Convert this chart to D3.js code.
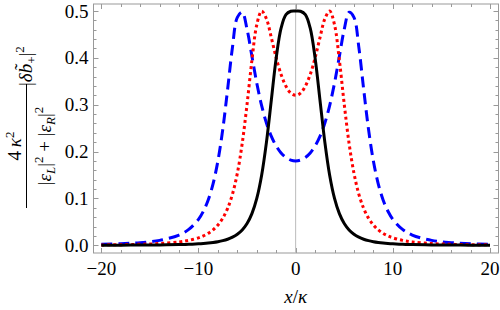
<!DOCTYPE html>
<html>
<head>
<meta charset="utf-8">
<script src="https://cdn.jsdelivr.net/npm/d3@7"></script>
</head>
<body style="margin:0">
<svg id="fig" width="500" height="310"></svg>
<script>
// detuning x/kappa, shared by the three curves
const xs = [-20, -18, -16, -14, -12, -11, -10, -9.5, -9, -8.5, -8, -7.5, -7,
  -6.5, -6, -5.5, -5, -4.5, -4, -3.5, -3, -2.5, -2, -1.5, -1, -0.5, 0,
  0.5, 1, 1.5, 2, 2.5, 3, 3.5, 4, 4.5, 5, 5.5, 6, 6.5, 7, 7.5, 8, 8.5, 9,
  9.5, 10, 11, 12, 14, 16, 18, 20];

const blackVals = [0.0002, 0.0003, 0.00049, 0.00083, 0.00154, 0.00218,
  0.00318, 0.0039, 0.00483, 0.00606, 0.00769, 0.00991, 0.01298, 0.01731,
  0.02353, 0.03268, 0.04644, 0.0675, 0.1, 0.14949, 0.22069, 0.31049, 0.4,
  0.46335, 0.49231, 0.49951, 0.5, 0.49951, 0.49231, 0.46335, 0.4, 0.31049,
  0.22069, 0.14949, 0.1, 0.0675, 0.04644, 0.03268, 0.02353, 0.01731,
  0.01298, 0.00991, 0.00769, 0.00606, 0.00483, 0.0039, 0.00318, 0.00218,
  0.00154, 0.00083, 0.00049, 0.0003, 0.0002];

const redVals = [0.00085, 0.00131, 0.00214, 0.00375, 0.00724, 0.01055,
  0.016, 0.02007, 0.02551, 0.03294, 0.04324, 0.05781, 0.07877, 0.1093,
  0.15385, 0.21729, 0.30118, 0.39498, 0.47059, 0.49988, 0.48302, 0.44281,
  0.4, 0.36461, 0.33952, 0.32482, 0.32, 0.32482, 0.33952, 0.36461, 0.4,
  0.44281, 0.48302, 0.49988, 0.47059, 0.39498, 0.30118, 0.21729, 0.15385,
  0.1093, 0.07877, 0.05781, 0.04324, 0.03294, 0.02551, 0.02007, 0.016,
  0.01055, 0.00724, 0.00375, 0.00214, 0.00131, 0.00085];

const blueVals = [0.00212, 0.00336, 0.00567, 0.01048, 0.02195, 0.03389,
  0.05538, 0.07256, 0.09674, 0.13114, 0.18, 0.24741, 0.33295, 0.42287,
  0.48649, 0.49736, 0.4608, 0.40332, 0.34615, 0.29812, 0.26063, 0.23243,
  0.21176, 0.19712, 0.18738, 0.18181, 0.18, 0.18181, 0.18738, 0.19712,
  0.21176, 0.23243, 0.26063, 0.29812, 0.34615, 0.40332, 0.4608, 0.49736,
  0.48649, 0.42287, 0.33295, 0.24741, 0.18, 0.13114, 0.09674, 0.07256,
  0.05538, 0.03389, 0.02195, 0.01048, 0.00567, 0.00336, 0.00212];

const xTicks = [-20, -10, 0, 10, 20];
const xTickLabels = ["\u221220", "\u221210", "0", "10", "20"];
const xMinor = [-18, -16, -14, -12, -8, -6, -4, -2, 2, 4, 6, 8, 12, 14, 16, 18];
const yTicks = [0, 0.1, 0.2, 0.3, 0.4, 0.5];
const yTickLabels = ["0.0", "0.1", "0.2", "0.3", "0.4", "0.5"];
const yMinor = [0.02, 0.04, 0.06, 0.08, 0.12, 0.14, 0.16, 0.18, 0.22, 0.24,
  0.26, 0.28, 0.32, 0.34, 0.36, 0.38, 0.42, 0.44, 0.46, 0.48];

const serifFace = "'Liberation Serif'";
const svg = d3.select("svg#fig");
const frame = {left: 93.5, right: 498.5, top: 4, bottom: 253};
const xScale = d3.scaleLinear().domain([-20, 20]).range([101.3, 490]);
const yScale = d3.scaleLinear().domain([0, 0.5]).range([245.3, 11]);
const frameColor = "#999999";

/**
 * Adds a text element in the serif face.
 * @param {selection} parent Where to append.
 * @return {selection} The new text.
 */
function addText(parent) {
  return parent.append("text").style("font-family", serifFace, "important");
}

/**
 * Draws the frame with inward ticks on all four sides.
 */
function drawFrame() {
  const g = svg.append("g").attr("stroke", frameColor).attr("stroke-width", 1);
  g.append("rect")
      .attr("x", frame.left).attr("y", frame.top)
      .attr("width", frame.right - frame.left)
      .attr("height", frame.bottom - frame.top)
      .attr("fill", "none");

  const xt = xTicks.map((v) => [v, 5]).concat(xMinor.map((v) => [v, 3]));
  xt.forEach(([v, len]) => {
    const px = Math.round(xScale(v)) + 0.5;
    g.append("line").attr("x1", px).attr("x2", px)
        .attr("y1", frame.bottom).attr("y2", frame.bottom - len);
    g.append("line").attr("x1", px).attr("x2", px)
        .attr("y1", frame.top).attr("y2", frame.top + len);
  });
  const yt = yTicks.map((v) => [v, 5]).concat(yMinor.map((v) => [v, 3]));
  yt.forEach(([v, len]) => {
    const py = Math.round(yScale(v)) + 0.5;
    g.append("line").attr("y1", py).attr("y2", py)
        .attr("x1", frame.left).attr("x2", frame.left + len);
    g.append("line").attr("y1", py).attr("y2", py)
        .attr("x1", frame.right).attr("x2", frame.right - len);
  });

  xTicks.forEach((d, i) => {
    addText(svg)
        .attr("x", xScale(d))
        .attr("y", 275)
        .attr("text-anchor", "middle")
        .attr("font-size", 19)
        .text(xTickLabels[i]);
  });
  yTicks.forEach((d, i) => {
    addText(svg)
        .attr("x", 88.5)
        .attr("y", yScale(d) + 6.5)
        .attr("text-anchor", "end")
        .attr("font-size", 19)
        .text(yTickLabels[i]);
  });

  // vertical axis at x = 0
  svg.append("line")
      .attr("x1", xScale(0)).attr("x2", xScale(0))
      .attr("y1", frame.top).attr("y2", frame.bottom)
      .attr("stroke", "#bbbbbb").attr("stroke-width", 1);
}

/**
 * Draws one curve.
 * @param {Array} vals The y values, one per entry of xs.
 * @param {string} color Stroke colour.
 * @param {string} dash Dash pattern, or null for a solid line.
 */
function drawCurve(vals, color, dash) {
  const pts = xs.map((x, i) => [x, vals[i]]);
  svg.append("path")
      .datum(pts)
      .attr("fill", "none")
      .attr("stroke", color)
      .attr("stroke-width", 3)
      .attr("stroke-dasharray", dash)
      .attr("d", d3.line()
          .curve(d3.curveCatmullRom.alpha(0.5))
          .x((d) => xScale(d[0]))
          .y((d) => yScale(d[1])));
}

/**
 * Axis titles, the y one is a rotated fraction.
 */
function drawLabels() {
  const xl = addText(svg)
      .attr("x", xScale(0)).attr("y", 303)
      .attr("text-anchor", "middle")
      .attr("font-size", 19);
  xl.append("tspan").style("font-style", "italic").text("x");
  xl.append("tspan").text("/");
  xl.append("tspan").style("font-style", "italic").text("\u03ba");

  const g = svg.append("g").attr("transform", "rotate(-90)");
  const mid = -146;
  // numerator
  const num = addText(g).attr("x", mid).attr("y", 20.5)
      .attr("text-anchor", "middle").attr("font-size", 19);
  num.append("tspan").text("4\u2009");
  num.append("tspan").style("font-style", "italic").text("\u03ba");
  num.append("tspan").attr("font-size", 13).attr("dy", -7).text("2");

  g.append("line").attr("x1", -208).attr("x2", -84)
      .attr("y1", 26.5).attr("y2", 26.5)
      .attr("stroke", "#000").attr("stroke-width", 1);

  // denominator
  const den = addText(g).attr("x", mid).attr("y", 51)
      .attr("text-anchor", "middle").attr("font-size", 19);
  den.append("tspan").text("|");
  den.append("tspan").style("font-style", "italic").text("\u03b5");
  den.append("tspan").style("font-style", "italic").attr("font-size", 13)
      .attr("dy", 4).text("L");
  den.append("tspan").attr("dy", -4).text("|");
  den.append("tspan").attr("font-size", 13).attr("dy", -8).text("2");
  den.append("tspan").attr("dy", 8).text(" + |");
  den.append("tspan").style("font-style", "italic").text("\u03b5");
  den.append("tspan").style("font-style", "italic").attr("font-size", 13)
      .attr("dy", 4).text("R");
  den.append("tspan").attr("dy", -4).text("|");
  den.append("tspan").attr("font-size", 13).attr("dy", -8).text("2");

  // |delta b~_+|^2 after the fraction
  const tail = addText(g).attr("x", -86).attr("y", 32)
      .attr("font-size", 19);
  tail.append("tspan").text("|");
  tail.append("tspan").style("font-style", "italic").text("\u03b4b\u0303");
  tail.append("tspan").attr("font-size", 13).attr("dy", 4).text("+");
  tail.append("tspan").attr("dy", -4).text("|");
  tail.append("tspan").attr("font-size", 13).attr("dy", -8).text("2");
}

drawFrame();
drawCurve(blueVals, "#0000ff", "11,6");
drawCurve(redVals, "#ff0000", "3,3");
drawCurve(blackVals, "#000000", null);
drawLabels();
</script>
</body>
</html>
